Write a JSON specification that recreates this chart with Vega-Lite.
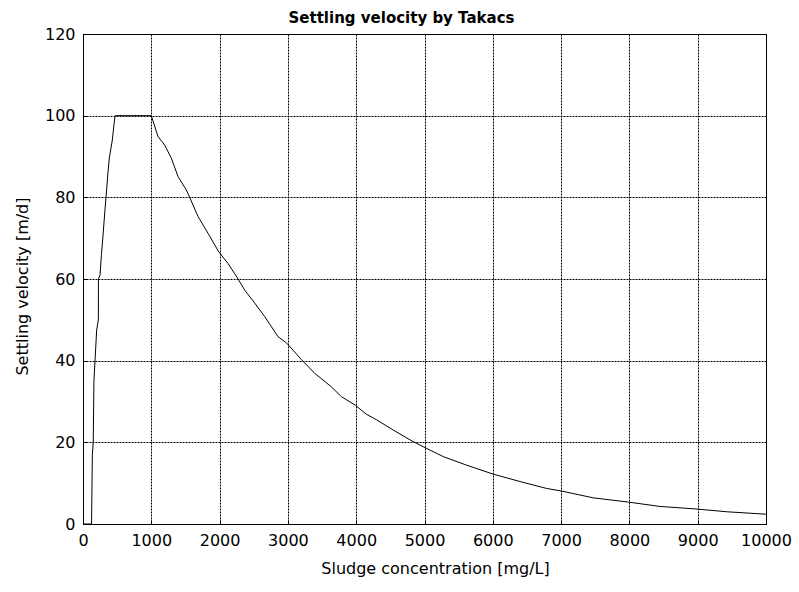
{
  "$schema": "https://vega.github.io/schema/vega-lite/v6.json",
  "width": 683,
  "height": 490,
  "autosize": {"type": "none"},
  "padding": {"left": 83, "top": 34, "right": 33, "bottom": 68},
  "background": "white",
  "title": {
    "text": "Settling velocity by Takacs",
    "font": "DejaVu Sans",
    "fontSize": 15,
    "fontWeight": "bold",
    "color": "black",
    "anchor": "middle",
    "offset": 0,
    "dx": -23
  },
  "config": {
    "view": {"stroke": "black", "strokeWidth": 1},
    "axis": {
      "labelFont": "DejaVu Sans",
      "labelFontSize": 16,
      "labelColor": "black",
      "labelOverlap": false,
      "labelFlush": false,
      "titleFont": "DejaVu Sans",
      "titleFontSize": 16,
      "titleFontWeight": "normal",
      "titleColor": "black",
      "grid": true,
      "gridColor": "black",
      "gridDash": [2, 1],
      "gridOpacity": 1,
      "gridWidth": 1,
      "domainColor": "black",
      "tickColor": "black",
      "tickSize": -4,
      "labelPadding": 12
    }
  },
  "data": {
    "values": [
      {"c": 0, "v": 0},
      {"c": 125, "v": 0},
      {"c": 132, "v": 10},
      {"c": 137, "v": 17},
      {"c": 150, "v": 20},
      {"c": 160, "v": 35},
      {"c": 200, "v": 47.5},
      {"c": 225, "v": 50},
      {"c": 226, "v": 60},
      {"c": 250, "v": 61},
      {"c": 270, "v": 66},
      {"c": 290, "v": 70},
      {"c": 322, "v": 77},
      {"c": 347, "v": 82},
      {"c": 360, "v": 85},
      {"c": 385, "v": 89.6},
      {"c": 429, "v": 94},
      {"c": 455, "v": 98},
      {"c": 470, "v": 100},
      {"c": 1000, "v": 100},
      {"c": 1098, "v": 94.9},
      {"c": 1196, "v": 92.8},
      {"c": 1293, "v": 89.6},
      {"c": 1391, "v": 85.1},
      {"c": 1513, "v": 81.8},
      {"c": 1562, "v": 80},
      {"c": 1684, "v": 75.3},
      {"c": 1830, "v": 71.2},
      {"c": 1986, "v": 66.7},
      {"c": 2123, "v": 63.8},
      {"c": 2260, "v": 60.3},
      {"c": 2367, "v": 57.3},
      {"c": 2514, "v": 54.1},
      {"c": 2660, "v": 50.8},
      {"c": 2855, "v": 45.9},
      {"c": 2982, "v": 44.3},
      {"c": 3196, "v": 40.3},
      {"c": 3392, "v": 36.9},
      {"c": 3636, "v": 33.6},
      {"c": 3782, "v": 31.2},
      {"c": 3987, "v": 29.1},
      {"c": 4148, "v": 26.9},
      {"c": 4300, "v": 25.5},
      {"c": 4543, "v": 23.0},
      {"c": 4788, "v": 20.6},
      {"c": 4983, "v": 18.9},
      {"c": 5275, "v": 16.5},
      {"c": 5618, "v": 14.4},
      {"c": 6008, "v": 12.2},
      {"c": 6398, "v": 10.4},
      {"c": 6789, "v": 8.7},
      {"c": 6998, "v": 8.1},
      {"c": 7472, "v": 6.4},
      {"c": 7970, "v": 5.4},
      {"c": 8448, "v": 4.3},
      {"c": 8960, "v": 3.7},
      {"c": 9425, "v": 3.0},
      {"c": 10000, "v": 2.4}
    ]
  },
  "mark": {"type": "line", "color": "black", "strokeWidth": 1, "clip": true},
  "encoding": {
    "x": {
      "field": "c",
      "type": "quantitative",
      "scale": {"domain": [0, 10000], "nice": false, "zero": false},
      "axis": {
        "values": [0, 1000, 2000, 3000, 4000, 5000, 6000, 7000, 8000, 9000, 10000],
        "format": "d",
        "title": "Sludge concentration [mg/L]",
        "titlePadding": 12,
        "titleX": 352
      }
    },
    "y": {
      "field": "v",
      "type": "quantitative",
      "scale": {"domain": [0, 120], "nice": false},
      "axis": {
        "values": [0, 20, 40, 60, 80, 100, 120],
        "title": "Settling velocity [m/d]",
        "titlePadding": 14,
        "titleY": 252
      }
    }
  }
}
